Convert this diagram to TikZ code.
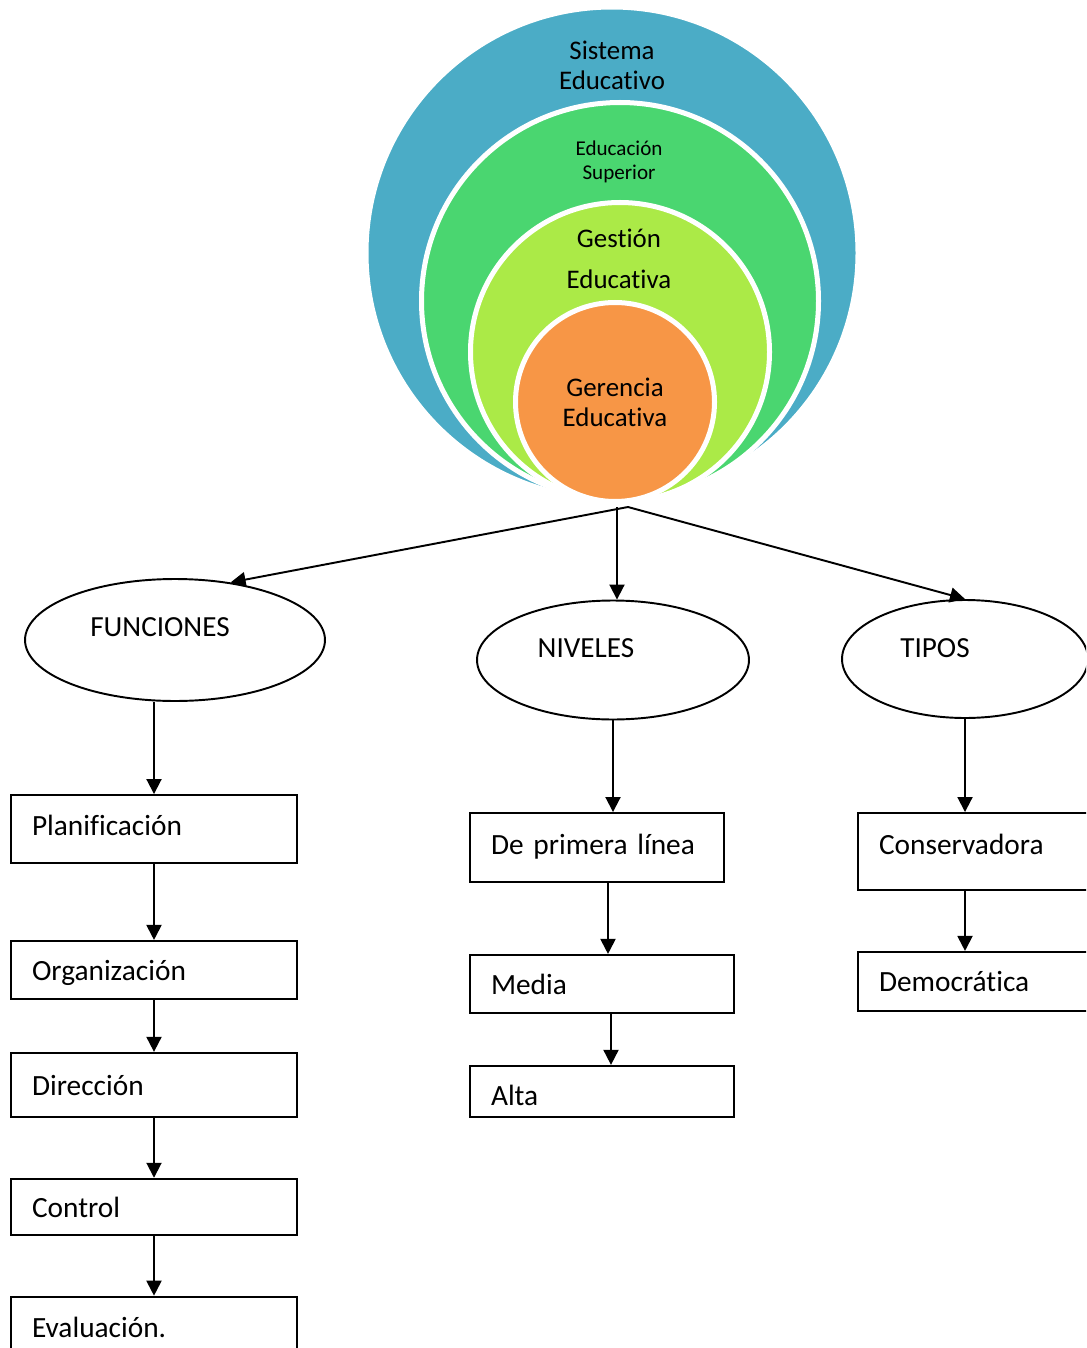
\documentclass[tikz,border=0pt]{standalone}
\usepackage{fontspec}
\setmainfont{Carlito}[Ligatures=NoCommon]
\usetikzlibrary{positioning, shapes.geometric, arrows.meta}
\definecolor{sisblue}{HTML}{4BACC6}
\definecolor{supgreen}{HTML}{4AD670}
\definecolor{gesgreen}{HTML}{ABEA47}
\definecolor{gerorange}{HTML}{F79646}
\tikzset{
	ring/.style={
		draw=white,
		line width=2.85pt,
	},
	ringtext/.style={
		align=center,
		inner sep=0pt,
		font={\fontsize{15.3}{17}\selectfont}
	},
	oval/.style={
		ellipse,
		draw,
		line width=1.1pt,
		inner sep=0pt,
	},
	ovaltext/.style={
		inner sep=0pt,
		font={\fontsize{16.6}{19}\selectfont}
	},
	stage/.style={
		draw,
		rectangle,
		line width=1.1pt,
		align=left,
		inner xsep=0.42cm,
		inner ysep=0pt,
		text height=15.5pt,
		text depth=3.5pt,
		font={\fontsize{16.7}{19}\selectfont}
	},
	link/.style={
		line width=1.1pt,
		-{Triangle[length=0.3cm, width=0.3cm]}
	}
}

\begin{document}
\begin{tikzpicture}[x=0.02cm, y=-0.02cm]
		\clip (0,0) rectangle (1086,1348);
		
		% nested circles
		\draw[ring, fill=sisblue] (612,253) circle (246);
		\draw[ring, fill=supgreen] (620,301) circle (198.5);
		\draw[ring, fill=gesgreen] (620,352) circle (149.5);
		\draw[ring, fill=gerorange] (615,402) circle (99.5);
		
		\node(sistema)[ringtext] at (612,65) {Sistema\\Educativo};
		\node(superior)[ringtext, font={\fontsize{12}{14}\selectfont}] at (619,162) {Educación\\Superior};
		\node(gestion)[ringtext, font={\fontsize{15.3}{23}\selectfont}] at (619,259) {Gestión\\Educativa};
		\node(gerencia)[ringtext] at (615,402) {Gerencia\\Educativa};
		
		\coordinate(hub) at (628,507);
		\coordinate(hubv) at (617,507);
		
		% three branches
		\node(funciones)[oval, minimum width=6cm, minimum height=2.44cm] at (175,640) {};
		\node(niveles)[oval, minimum width=5.44cm, minimum height=2.38cm] at (613,660) {};
		\node(tipos)[oval, minimum width=4.92cm, minimum height=2.36cm] at (965,659) {};
		\node(funcioneslbl)[ovaltext] at (160,627) {FUNCIONES};
		\node(niveleslbl)[ovaltext] at (586,648) {NIVELES};
		\node(tiposlbl)[ovaltext] at (935,648) {TIPOS};
		
		\node(planif)[stage, text width=4.88cm, minimum height=1.36cm, text depth=8pt] at (154,829) {Planificación};
		\node(organ)[stage, text width=4.88cm, minimum height=1.16cm, below=1.52cm of planif] {Organización};
		\node(direcc)[stage, text width=4.88cm, minimum height=1.28cm, below=1.04cm of organ] {Dirección};
		\node(control)[stage, text width=4.88cm, minimum height=1.12cm, below=1.2cm of direcc] {Control};
		\node(evalua)[stage, text width=4.88cm, minimum height=1.2cm, below=1.2cm of control] {Evaluación.};
		
		\node(primera)[stage, text width=4.24cm, minimum height=1.38cm, text depth=8pt] at (597,847.5) {De primera línea};
		\node(media)[stage, text width=4.44cm, minimum height=1.16cm, below=1.42cm of primera.south west, anchor=north west] {Media};
		\node(alta)[stage, text width=4.44cm, minimum height=1.02cm, text height=20pt, below=1.02cm of media] {Alta};
		
		\node(conserv)[stage, text width=4.16cm, minimum height=1.54cm, text depth=12.5pt] at (983,851.5) {Conservadora};
		\node(democ)[stage, text width=4.16cm, minimum height=1.18cm, below=1.2cm of conserv] {Democrática};
		
		\draw[link] (hub) -- (funciones.46);
		\draw[link] (hubv) -- (hubv |- niveles.north);
		\draw[link] (hub) -- (tipos.north);
		
		\draw[link] (planif.north |- funciones.south) -- (planif);
		\draw[link] (planif) -- (organ);
		\draw[link] (organ) -- (direcc);
		\draw[link] (direcc) -- (control);
		\draw[link] (control) -- (evalua);
		
		\draw[link] (niveles.south) -- (niveles.south |- primera.north);
		\draw[link] ([xshift=0.12cm]media.north |- primera.south) -- ([xshift=0.12cm]media.north);
		\draw[link] ([xshift=0.18cm]media.south) -- ([xshift=0.18cm]media.south |- alta.north);
		
		\draw[link] (tipos.south) -- (tipos.south |- conserv.north);
		\draw[link] (tipos.south |- conserv.south) -- (tipos.south |- democ.north);
\end{tikzpicture}
\end{document}
